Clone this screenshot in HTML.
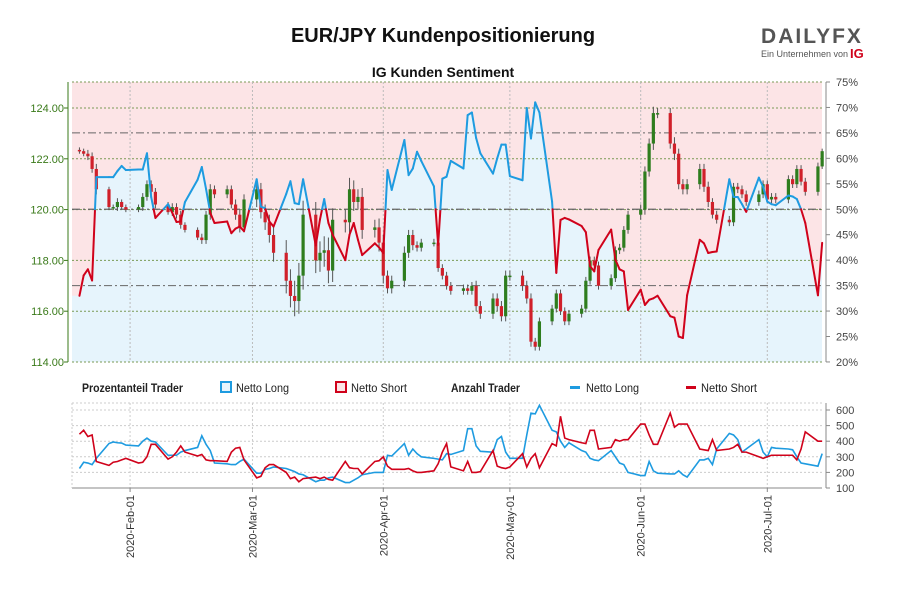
<!DOCTYPE html>
<html><head><meta charset="utf-8"><style>
body{margin:0;background:#fff;}
svg{display:block;font-family:"Liberation Sans",sans-serif;}
</style></head><body>
<svg id="c" width="900" height="600" viewBox="0 0 900 600">
<text x="443" y="42" text-anchor="middle" font-size="20" font-weight="bold" fill="#111">EUR/JPY Kundenpositionierung</text>
<g>
<text x="812" y="43" text-anchor="middle" font-size="21" font-weight="bold" fill="#555" letter-spacing="2">DAILYFX</text>
<text x="761" y="57" font-size="9" fill="#555">Ein Unternehmen von</text>
<text x="850" y="58" font-size="13" font-weight="bold" fill="#d0021b">IG</text>
</g>
<text x="443" y="77" text-anchor="middle" font-size="14" font-weight="bold" fill="#111">IG Kunden Sentiment</text>
<g id="main"></g>
<g id="bottom"></g>
<g font-size="12" fill="#222">
<text x="82" y="392" font-weight="bold" textLength="101" lengthAdjust="spacingAndGlyphs">Prozentanteil Trader</text>
<rect x="221" y="382" width="10" height="10" fill="#e6f4fc" stroke="#1e9be0" stroke-width="2"/>
<text x="236" y="392" textLength="53" lengthAdjust="spacingAndGlyphs">Netto Long</text>
<rect x="336" y="382" width="10" height="10" fill="#fce4e6" stroke="#d0021b" stroke-width="2"/>
<text x="351" y="392" textLength="56" lengthAdjust="spacingAndGlyphs">Netto Short</text>
<text x="451" y="392" font-weight="bold" textLength="69" lengthAdjust="spacingAndGlyphs">Anzahl Trader</text>
<rect x="570" y="386" width="10" height="3" fill="#1e9be0"/>
<text x="586" y="392" textLength="53" lengthAdjust="spacingAndGlyphs">Netto Long</text>
<rect x="686" y="386" width="10" height="3" fill="#d0021b"/>
<text x="701" y="392" textLength="56" lengthAdjust="spacingAndGlyphs">Netto Short</text>
</g>
</svg>
<script>
const closes=[122.3,122.2,122.1,121.6,120.8, 120.1,120.1,120.3,120.1,120.0, 120.1,120.5,121.0,120.7,120.2, 119.9,120.1,119.8,119.4,119.2, 118.9,118.8,119.8,120.8,120.6, 120.8,120.2,119.8,119.3,120.4, 120.8,119.9,119.5,119.0,118.3, 117.2,116.6,116.4,117.4,119.8, 118.0,118.3,118.4,117.6,119.6, 119.5,120.8,120.3,120.5,119.2, 119.3,118.7,117.4,116.9,117.2, 118.3,119.0,118.6,118.5,118.7, 118.7,117.7,117.4,117.0,116.8, 116.9,116.8,117.0,116.2,115.9, 116.5,116.2,115.8,117.4,117.4, 117.0,116.5,114.8,114.6,115.6, 116.1,116.7,116.0,115.6,115.9, 116.1,117.2,118.0,117.8,117.0, 117.3,118.4,118.5,119.2,119.8, 120.0,121.5,122.6,123.8,123.8, 122.6,122.2,121.0,120.8,121.0, 121.6,120.9,120.3,119.8,119.6, 119.5,120.9,120.8,120.6,120.3, 120.6,121.0,120.4,120.5,120.4, 121.2,121.0,121.6,121.1,120.7, 121.7,122.3];
const wicks=[0.2,0.2,0.3,0.3,0.4, 0.2,0.2,0.3,0.2,0.2, 0.2,0.3,0.3,0.3,0.3, 0.2,0.3,0.3,0.3,0.2, 0.2,0.3,0.3,0.4,0.3, 0.3,0.3,0.4,0.4,0.4, 0.6,0.5,0.6,0.6,0.7, 1.0,0.9,1.2,1.0,1.1, 1.0,0.9,1.1,1.0,0.9, 0.8,0.9,0.7,0.6,0.7, 0.6,0.7,0.6,0.4,0.4, 0.5,0.4,0.4,0.3,0.3, 0.3,0.3,0.3,0.3,0.3, 0.3,0.3,0.3,0.4,0.4, 0.4,0.4,0.4,0.4,0.4, 0.4,0.4,0.4,0.3,0.3, 0.3,0.3,0.3,0.3,0.3, 0.3,0.3,0.3,0.3,0.3, 0.3,0.3,0.3,0.3,0.3, 0.4,0.4,0.4,0.5,0.4, 0.4,0.5,0.4,0.4,0.4, 0.4,0.4,0.4,0.3,0.3, 0.3,0.3,0.3,0.3,0.3, 0.3,0.3,0.3,0.3,0.3, 0.3,0.3,0.3,0.3,0.3, 0.3,0.2];
const longPct=[33.0,37.0,38.2,36.0,56.3, 56.3,56.3,57.5,58.5,57.7, 57.8,57.8,61,52.4,48.3, 51,49.3,47.5,47.6,51.4, 55.8,58.3,54,49.3,47.3, 47.6,45.3,46.2,46.6,45.7, 55.9,50.5,50.2,47.6,46.6, 53,55.5,51.2,51,55.9, 42.9,48,52,47.3,45, 40,45,47.3,44,41, 43.3,42.5,41.4,57.7,53.8, 63.6,56.7,58,61.3,59.5, 54.5,43,56,56.4,59.5, 58,68.5,69,64,61, 57,60,62.7,62.7,56.5, 55.7,69.9,63.9,71,69, 51.5,37.5,47.9,48.3,48, 46.7,45.5,38.8,37.8,42, 46,40.1,38.2,37.8,30.2, 34.2,31.2,32.2,32.5,33, 29,28.7,25,24.7,33.1, 44,43.3,41.4,41.6,41.7, 55.9,52.4,52.4,51,49.5, 56.2,54.4,51.5,51,50.8, 52.7,52.5,52,50,47.3, 33.1,43.4];
const longCount=[225,265,260,250,290, 385,395,390,388,375, 370,400,420,400,395, 310,310,310,330,340, 360,435,380,340,260, 255,250,250,270,285, 195,195,220,225,235, 225,215,205,190,185, 140,150,150,165,170, 135,135,150,165,185, 200,200,200,310,305, 385,310,350,320,300, 290,285,280,320,315, 340,480,480,370,335, 330,410,430,330,290, 290,440,580,575,630, 470,460,400,360,390, 340,330,290,280,275, 340,300,260,250,200, 180,180,270,210,195, 190,190,210,185,170, 280,280,290,250,350, 450,440,410,330,350, 410,330,300,360,355, 350,345,300,260,255, 240,320];
const shortCount=[445,470,430,440,270, 245,265,270,280,290, 260,265,300,380,380, 285,300,330,370,330, 305,315,280,275,275, 270,330,355,360,280, 165,175,230,250,250, 200,160,170,140,160, 170,160,170,155,150, 270,230,225,225,190, 270,275,300,240,220, 220,225,210,200,200, 210,255,330,385,235, 210,270,200,200,205, 340,240,230,225,235, 320,235,290,320,230, 385,370,560,420,410, 390,385,470,470,350, 360,410,400,410,410, 510,510,440,380,380, 580,490,510,510,510, 350,345,340,410,340, 350,360,380,330,330, 300,290,300,310,310, 310,310,280,350,460, 400,400];
const priceTicks=[114,116,118,120,122,124];
const pctTicks=[20,25,30,35,40,45,50,55,60,65,70,75];
const countTicks=[100,200,300,400,500,600];
const monthTicks=["2020-02-01","2020-03-01","2020-04-01","2020-05-01","2020-06-01","2020-07-01"];
const monthLabels=["2020-Feb-01","2020-Mar-01","2020-Apr-01","2020-May-01","2020-Jun-01","2020-Jul-01"];

const NS="http://www.w3.org/2000/svg";
const X0=72,X1=822,Y0=82,Y1=362,B0=403,B1=488;
const origin=Date.UTC(2020,0,18);
function dayOf(s){const p=s.split("-");return (Date.UTC(+p[0],+p[1]-1,+p[2])-origin)/864e5;}
function xDay(d){return 71+d*4.22;}
function yPrice(p){return 108+(124-p)*25.4;}
function yPct(v){return 82+(75-v)*5.09;}
function yCount(c){return 410+(600-c)*0.156;}
const days=[];{let t=Date.UTC(2020,0,20);while(days.length<closes.length){const w=new Date(t).getUTCDay();if(w>0&&w<6)days.push((t-origin)/864e5);t+=864e5;}}
function el(tag,attrs,parent){const e=document.createElementNS(NS,tag);for(const k in attrs)e.setAttribute(k,attrs[k]);parent.appendChild(e);return e;}
const main=document.getElementById('main'),bottom=document.getElementById('bottom');

let r=el('rect',{x:X0,y:Y0,width:X1-X0,height:Y1-Y0,fill:'#fce4e6'},main);


const pts=days.map((d,i)=>[xDay(d),yPct(longPct[i])]);
let poly=[[X0,Y1],[X0,pts[0][1]]].concat(pts).concat([[X1,pts[pts.length-1][1]],[X1,Y1]]);
let f=el('polygon',{points:poly.map(p=>p.join(',')).join(' '),fill:'#e6f4fc'},main);


priceTicks.forEach(p=>{const y=yPrice(p);
 let g=el('line',{x1:X0,x2:X1,y1:y,y2:y,stroke:'#7a9a55','stroke-dasharray':'2,2','stroke-width':1},main);
 
 
 let t=el('text',{x:64,y:y+4,'text-anchor':'end','font-size':11,fill:'#3a7a1a'},main);t.textContent=p.toFixed(2);
 
 
 el('line',{x1:64,x2:68,y1:y,y2:y,stroke:'#3a7a1a'},main);
});
el('line',{x1:X0,x2:X1,y1:Y0,y2:Y0,stroke:'#7a9a55','stroke-dasharray':'2,2'},main);
[65,50,35].forEach(v=>{const y=yPct(v);let g=el('line',{x1:X0,x2:X1,y1:y,y2:y,stroke:'#666','stroke-dasharray':'8,3,2,3','stroke-width':v==50?1.3:1},main);
 
 });
pctTicks.forEach(v=>{const y=yPct(v);
 el('line',{x1:826,x2:830,y1:y,y2:y,stroke:'#888'},main);
 let t=el('text',{x:836,y:y+4,'font-size':11,fill:'#444'},main);t.textContent=v+'%';
 
 });
el('line',{x1:68,x2:68,y1:Y0,y2:Y1,stroke:'#3a7a1a'},main);
el('line',{x1:826,x2:826,y1:Y0,y2:Y1,stroke:'#888'},main);
monthTicks.forEach((m,i)=>{const x=xDay(dayOf(m));
 let g=el('line',{x1:x,x2:x,y1:Y0,y2:Y1,stroke:'#bbb','stroke-dasharray':'2,2'},main);
 
 
 el('line',{x1:x,x2:x,y1:B0,y2:B1,stroke:'#ccc','stroke-dasharray':'2,2'},bottom);
 el('line',{x1:x,x2:x,y1:B1,y2:B1+4,stroke:'#888'},bottom);
 let t=el('text',{x:0,y:0,'font-size':11,fill:'#333','text-anchor':'end',transform:`translate(${x+4},${B1+7}) rotate(-90)`},bottom);t.textContent=monthLabels[i];
 
 });
days.forEach((d,i)=>{const x=xDay(d);const c=closes[i];const o=i>0?closes[i-1]:c+0.05;
 const up=c>=o;const hi=Math.max(o,c)+wicks[i]*0.5,lo=Math.min(o,c)-wicks[i]*0.5;
 let w=el('line',{x1:x,x2:x,y1:yPrice(hi),y2:yPrice(lo),stroke:'#555','stroke-width':1},main);
 
 
 const yt=yPrice(Math.max(o,c)),yb=yPrice(Math.min(o,c));
 let b=el('rect',{x:x-1.6,y:yt,width:3.2,height:Math.max(1.5,yb-yt),fill:up?'#2e7d1e':'#d0202a'},main);
 
 });
for(let i=0;i<pts.length-1;i++){const a=longPct[i],b=longPct[i+1];const [x1,y1]=pts[i],[x2,y2]=pts[i+1];
 const segs=[];
 if((a-50)*(b-50)<0){const t=(50-a)/(b-a);const xm=x1+t*(x2-x1),ym=yPct(50);segs.push([x1,y1,xm,ym,a>50]);segs.push([xm,ym,x2,y2,b>50]);}
 else segs.push([x1,y1,x2,y2,(a+b)/2>=50]);
 segs.forEach(s=>{let l=el('line',{x1:s[0],y1:s[1],x2:s[2],y2:s[3],stroke:s[4]?'#1e9be0':'#d0021b','stroke-width':2,'stroke-linecap':'round'},main);
  
  });}
countTicks.forEach(c=>{const y=yCount(c);
 el('line',{x1:X0,x2:X1,y1:y,y2:y,stroke:'#ccc','stroke-dasharray':'2,2'},bottom);
 el('line',{x1:826,x2:830,y1:y,y2:y,stroke:'#888'},bottom);
 let t=el('text',{x:836,y:y+4,'font-size':11,fill:'#444'},bottom);t.textContent=c;
 
 });
el('line',{x1:X0,x2:X1,y1:B0,y2:B0,stroke:'#ccc','stroke-dasharray':'2,2'},bottom);
el('line',{x1:X0,x2:X1,y1:B1,y2:B1,stroke:'#888'},bottom);
el('line',{x1:X0,x2:X0,y1:B0,y2:B1,stroke:'#ccc','stroke-dasharray':'2,2'},bottom);
el('line',{x1:826,x2:826,y1:B0,y2:B1,stroke:'#888'},bottom);
let lp=el('polyline',{points:days.map((d,i)=>xDay(d)+','+yCount(longCount[i])).join(' '),fill:'none',stroke:'#1e9be0','stroke-width':1.6},bottom);


let sp=el('polyline',{points:days.map((d,i)=>xDay(d)+','+yCount(shortCount[i])).join(' '),fill:'none',stroke:'#d0021b','stroke-width':1.6},bottom);


</script>
</body></html>
